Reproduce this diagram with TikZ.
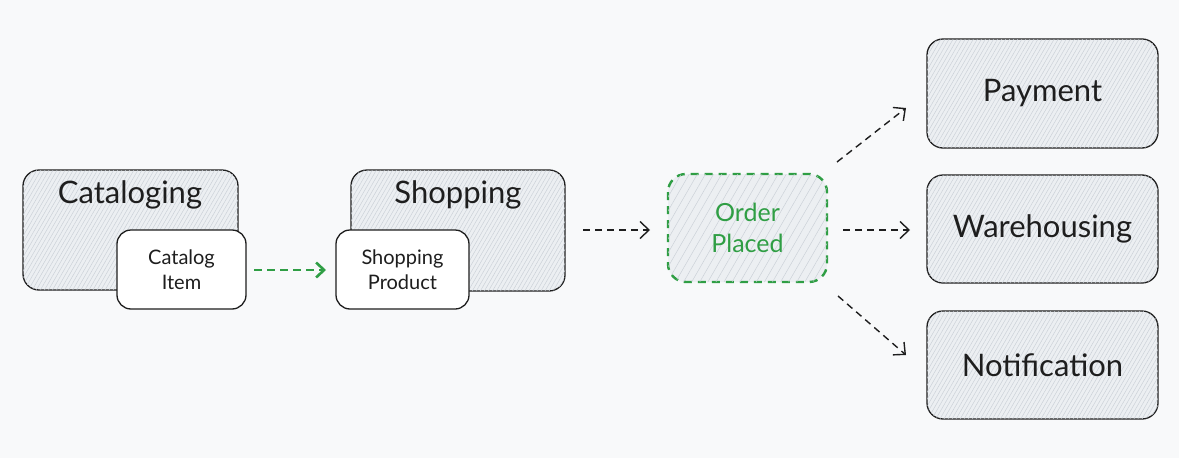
\documentclass[tikz,border=0pt]{standalone}
\usepackage{fontspec}
\setmainfont{Lato}
\usetikzlibrary{arrows.meta,patterns.meta}
\definecolor{bg}{HTML}{F8F9FA}
\definecolor{boxfill}{HTML}{ECEFF2}
\definecolor{hatch}{HTML}{C9CFD6}
\definecolor{edge}{HTML}{1E1E1E}
\definecolor{grn}{HTML}{2F9E44}
\tikzset{
  px/.style={x=1pt,y=-1pt},
  ctx/.style={draw=edge,line width=1.3pt,rounded corners=16pt,fill=boxfill,
    postaction={pattern={Lines[angle=60,distance=3.5pt,line width=0.45pt]},pattern color=hatch}},
  inner/.style={draw=edge,line width=1.3pt,rounded corners=14pt,fill=white},
  evt/.style={draw=grn,line width=2.4pt,dash pattern=on 8pt off 6pt,rounded corners=18pt,fill=boxfill,
    postaction={pattern={Lines[angle=60,distance=7pt,line width=0.45pt]},pattern color=hatch}},
  big/.style={font=\fontsize{31}{36}\selectfont,text=edge},
  small/.style={font=\fontsize{20}{25}\selectfont,text=edge,align=center},
  darr/.style={draw=edge,line width=1.4pt,dash pattern=on 7pt off 5pt,
    -{Straight Barb[length=9pt,width=17pt,line width=1.4pt]}},
  garr/.style={draw=grn,line width=2.6pt,dash pattern=on 8pt off 5pt,
    -{Straight Barb[length=8pt,width=15pt,line width=2.6pt]}},
}
\begin{document}
\begin{tikzpicture}[px]
\fill[bg] (0,0) rectangle (1179,458);
\useasboundingbox (0,0) rectangle (1179,458);
% Cataloging
\path[ctx] (23,170) rectangle (238,290);
\node[big,anchor=center] (catl) at (130,195) {Cataloging};
\path[inner] (117,230) rectangle (246,309);
\node[small] (cati) at (181.5,269.5) {Catalog\\Item};
% Shopping
\path[ctx] (351,170) rectangle (565,291);
\node[big] (shl) at (458,195) {Shopping};
\path[inner] (336,230) rectangle (469,309);
\node[small] (shp) at (402.5,269.5) {Shopping\\Product};
% Order placed
\path[evt] (668,174) rectangle (827,282);
\node[font=\fontsize{25}{31}\selectfont,text=grn,align=center] (op) at (747.5,228) {Order\\Placed};
% Right boxes
\path[ctx] (927,39) rectangle (1158,148);
\node[big] (pay) at (1042.5,93.5) {Payment};
\path[ctx] (927,175) rectangle (1158,283);
\node[big] (wh) at (1042.5,229) {Warehousing};
\path[ctx] (927,311) rectangle (1158,419);
\node[big] (nt) at (1042.5,365) {Notification};
% connectors
\coordinate (a1s) at (254,270); \coordinate (a1e) at (326,270);
\draw[garr] (a1s) -- (a1e);
\coordinate (a2s) at (583,230); \coordinate (a2e) at (650,230);
\draw[darr] (a2s) -- (a2e);
\coordinate (a3s) at (837,162); \coordinate (a3e) at (906,108);
\draw[darr] (a3s) -- (a3e);
\coordinate (a4s) at (843,230); \coordinate (a4e) at (910,230);
\draw[darr] (a4s) -- (a4e);
\coordinate (a5s) at (838,296); \coordinate (a5e) at (906,355);
\draw[darr] (a5s) -- (a5e);
\end{tikzpicture}
\end{document}
